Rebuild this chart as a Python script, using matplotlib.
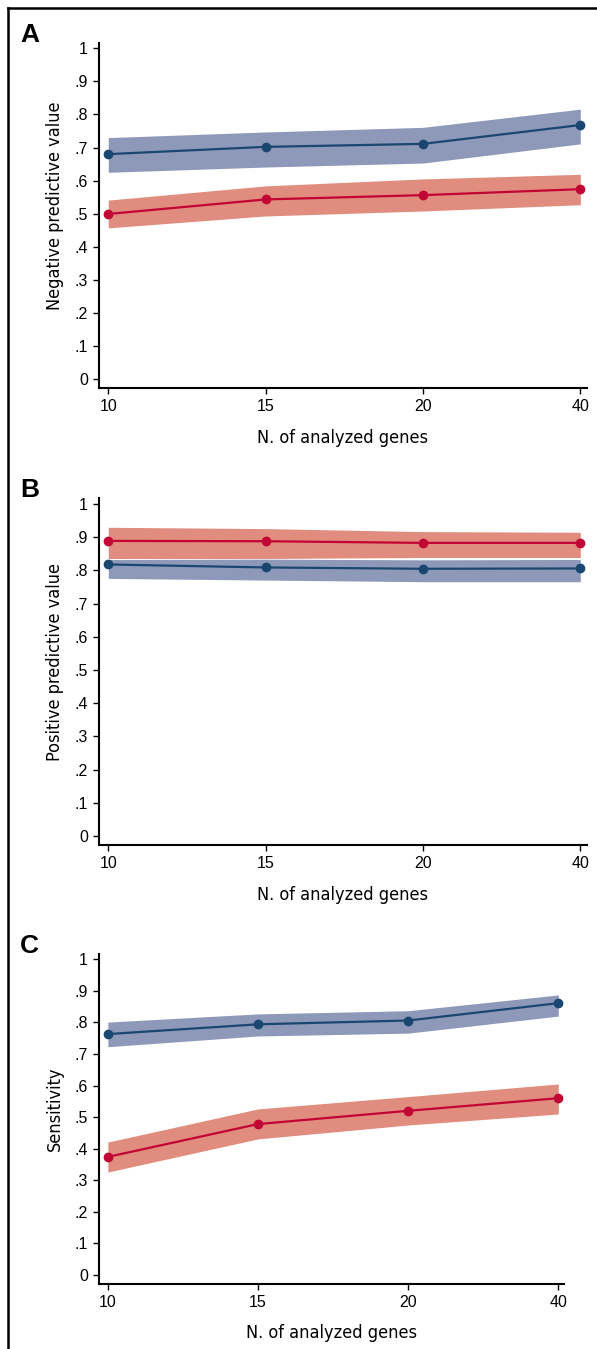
import numpy as np
import matplotlib
matplotlib.use("Agg")
import matplotlib.pyplot as plt
from matplotlib.lines import Line2D

# ---- data ----
genes = ["10", "15", "20", "40"]

# panel A: negative predictive value
npv_blue = [0.680, 0.702, 0.711, 0.768]
npv_blue_lo = [0.625, 0.641, 0.653, 0.711]
npv_blue_hi = [0.730, 0.747, 0.761, 0.816]
npv_red = [0.499, 0.543, 0.556, 0.574]
npv_red_lo = [0.457, 0.493, 0.508, 0.527]
npv_red_hi = [0.541, 0.584, 0.605, 0.619]

# panel B: positive predictive value
ppv_red = [0.889, 0.888, 0.883, 0.883]
ppv_red_lo = [0.836, 0.836, 0.839, 0.839]
ppv_red_hi = [0.930, 0.926, 0.917, 0.915]
ppv_blue = [0.818, 0.809, 0.805, 0.806]
ppv_blue_lo = [0.776, 0.771, 0.766, 0.766]
ppv_blue_hi = [0.833, 0.834, 0.832, 0.833]

# panel C: sensitivity
sen_blue = [0.763, 0.794, 0.806, 0.861]
sen_blue_lo = [0.723, 0.757, 0.766, 0.820]
sen_blue_hi = [0.801, 0.827, 0.837, 0.887]
sen_red = [0.374, 0.478, 0.520, 0.560]
sen_red_lo = [0.326, 0.431, 0.475, 0.510]
sen_red_hi = [0.421, 0.526, 0.565, 0.605]

yticks = [0, 0.1, 0.2, 0.3, 0.4, 0.5, 0.6, 0.7, 0.8, 0.9, 1]
ytick_labels = ["0", ".1", ".2", ".3", ".4", ".5", ".6", ".7", ".8", ".9", "1"]

BLUE = "#1a476f"
BLUE_BAND = "#8e98b9"
RED = "#c10534"
RED_BAND = "#e08c7e"

W, H = 597, 1349
plt.rcParams['font.family'] = ['Liberation Sans', 'DejaVu Sans']
fig = plt.figure(figsize=(W / 100, H / 100), dpi=100)

# condensed face for the axis titles (Helvetica Narrow look)
NARROW = ['Liberation Sans Narrow', 'DejaVu Sans']

YLIM = (-0.027, 1.017)
XLIM = (-0.059, 3.04)


def add_panel(left, right, top, bottom):
    # pixel box -> figure fraction
    return fig.add_axes([left / W, 1 - bottom / H, (right - left) / W, (bottom - top) / H])


panels = [
    # letter, ylabel, box (l, r, t, b), series, letter baseline
    ("A", "Negative predictive value", (99, 586.6, 42.7, 387.9),
     [(npv_blue, npv_blue_lo, npv_blue_hi, BLUE, BLUE_BAND),
      (npv_red, npv_red_lo, npv_red_hi, RED, RED_BAND)], 42),
    ("B", "Positive predictive value", (99, 586.6, 498.4, 845.0),
     [(ppv_red, ppv_red_lo, ppv_red_hi, RED, RED_BAND),
      (ppv_blue, ppv_blue_lo, ppv_blue_hi, BLUE, BLUE_BAND)], 497),
    ("C", "Sensitivity", (99, 564.3, 953.9, 1283.5),
     [(sen_blue, sen_blue_lo, sen_blue_hi, BLUE, BLUE_BAND),
      (sen_red, sen_red_lo, sen_red_hi, RED, RED_BAND)], 953),
]

x = np.arange(len(genes))

for letter, ylabel, box, series, letter_y in panels:
    l, r, t, b = box
    ax = add_panel(l, r, t, b)
    for mean, lo, hi, c_line, c_band in series:
        ax.fill_between(x, lo, hi, color=c_band, lw=0, zorder=1)
    for mean, lo, hi, c_line, c_band in series:
        ax.plot(x, mean, color=c_line, lw=1.6, marker="o", ms=6, zorder=3)

    ax.set_xlim(*XLIM)
    ax.set_ylim(*YLIM)
    ax.set_xticks(x)
    ax.set_xticklabels(genes)
    ax.set_yticks(yticks)
    ax.set_yticklabels(ytick_labels)
    for s in ["top", "right"]:
        ax.spines[s].set_visible(False)
    for s in ["left", "bottom"]:
        ax.spines[s].set_linewidth(1.5)
    ax.tick_params(axis="both", length=4, width=1.0, labelsize=11.5, pad=4)
    ax.patch.set_alpha(0)

    # axis titles
    fig.text((l + r) / 2 / W, 1 - (b + 55) / H, "N. of analyzed genes",
             ha="center", va="baseline", fontsize=13, family=NARROW,
             fontstretch="condensed")
    fig.text(55 / W, 1 - ((t + b) / 2 - 10) / H, ylabel, rotation=90,
             ha="center", va="center", fontsize=13, family=NARROW,
             fontstretch="condensed")
    fig.text(20 / W, 1 - letter_y / H, letter, ha="left", va="baseline",
             fontsize=19, fontweight="bold")

# frame around the figure (left and top only, as in the source)
fig.add_artist(Line2D([8 / W, 8 / W], [0, 1 - 8 / H], color="black", lw=1.8))
fig.add_artist(Line2D([8 / W, 1], [1 - 8 / H, 1 - 8 / H], color="black", lw=1.8))

fig.savefig("out.png", dpi=100)
